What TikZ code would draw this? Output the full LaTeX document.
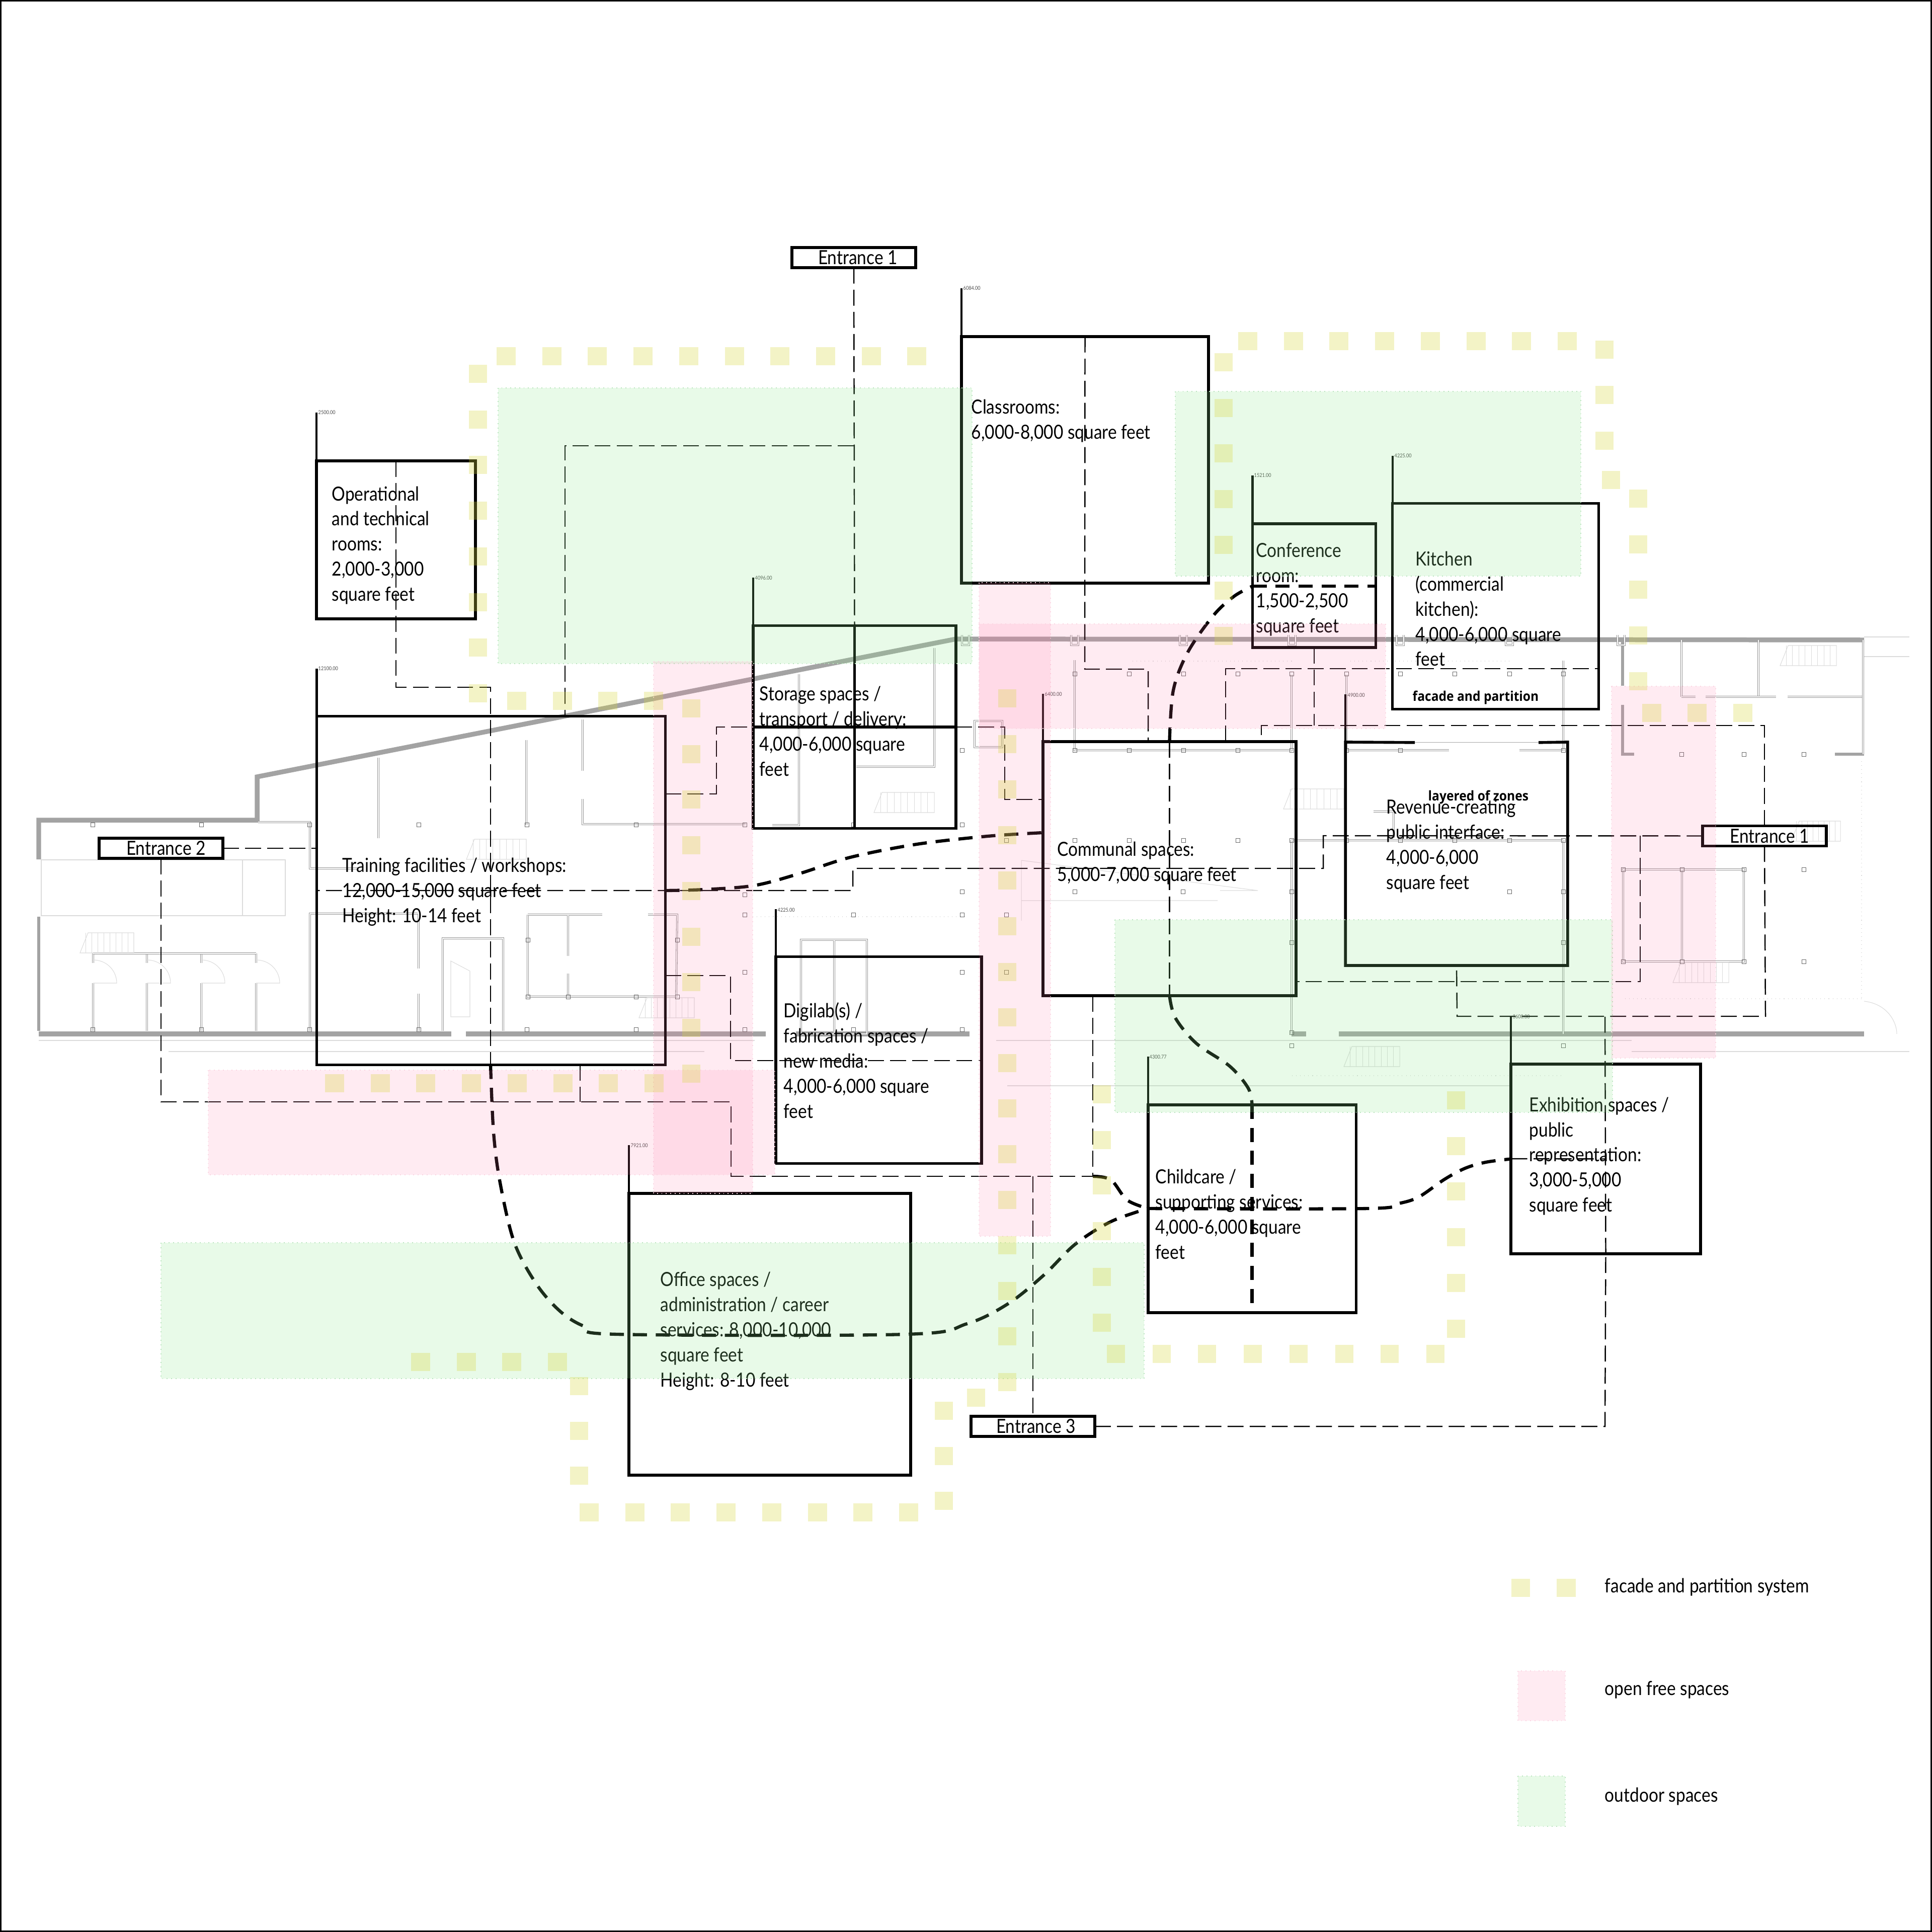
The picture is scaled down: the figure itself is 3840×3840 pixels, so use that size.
\documentclass[tikz,border=0pt]{standalone}
\usepackage{fontspec}
\setmainfont{Lato}[FakeStretch=0.865]
\newfontfamily\notefont{Open Sans}[FakeStretch=0.92]
\usepackage{tikz}
\usetikzlibrary{positioning}

\definecolor{outdoor}{RGB}{140,230,140}
\definecolor{outdoorline}{RGB}{185,228,190}
\definecolor{freezone}{RGB}{255,122,168}
\definecolor{freeline}{RGB}{250,214,226}
\definecolor{facade}{RGB}{215,215,65}

\tikzset{
    room/.style={draw,line width=1.6pt,inner sep=0pt,outer sep=0pt},
    roomline/.style={line width=1.6pt},
    tabline/.style={line width=1.2pt},
    tablabel/.style={font=\fontsize{3}{3}\selectfont,text=black!70,anchor=west,inner sep=0pt},
    roomtext/.style={font=\fontsize{11}{14.2}\selectfont,align=left,anchor=west,inner sep=0pt},
    notetext/.style={font=\notefont\bfseries\fontsize{7.6}{9}\selectfont,anchor=west,inner sep=0pt},
    entrance/.style={draw,line width=1.6pt,inner sep=0pt,outer sep=0pt,
        minimum width=2.46cm,minimum height=0.4cm,font=\fontsize{11}{14.2}\selectfont},
    route/.style={line width=0.7pt,dash pattern=on 9pt off 3.5pt},
    mainroute/.style={line width=1.8pt,dash pattern=on 8pt off 5pt},
    wall/.style={draw=black!36,line width=2.7pt},
    planline/.style={draw=black!42,line width=0.3pt,double=white,double distance=0.5pt},
    postmark/.style={draw=black!60,line width=0.25pt},
    ghostline/.style={draw=black!14,line width=0.3pt},
    greenzone/.style={fill=outdoor,fill opacity=0.2,draw=outdoorline,line width=0.5pt,dotted},
    pinkzone/.style={fill=freezone,fill opacity=0.15,draw=freeline,line width=0.5pt,dotted},
    facadesq/.style={fill=facade,fill opacity=0.3}
}

\begin{document}
\begin{tikzpicture}[x=0.01cm,y=-0.01cm]

\useasboundingbox (0,0) rectangle (3840,3840);
\draw[line width=1pt] (1,1) rectangle (3839,3839);

% Walls
\draw[wall,line join=miter] (77,1708)--(77,1630)--(511,1630)--(511,1544)--(1900,1270)--(3705,1272);
\draw[wall,line width=1.8pt] (77,1822)--(77,2049);
\draw[wall] (77,2055)--(897,2055) (926,2055)--(1522,2055) (1582,2055)--(1927,2055);
\draw[wall] (2567,2055)--(2596,2055) (2661,2055)--(3705,2055);
\draw[wall,line width=1.8pt] (3225,1272)--(3225,1363) (3225,1401)--(3225,1499)--(3248,1499);
\draw[wall,line width=1.8pt] (3647,1499)--(3705,1499);

% Plan lines
\draw[planline] (513,1634)--(616,1634)--(616,1726)--(714,1726);
\draw[planline] (830,1816)--(616,1816)--(616,2049);
\draw[planline] (752,1506)--(752,1666) (1046,1471)--(1046,1640);
\draw[planline] (1158,1430)--(1158,1532) (1158,1588)--(1158,1638)--(1482,1638);
\draw[planline] (832,1816)--(832,1925) (832,1975)--(832,2049);
\foreach \x in {185,292,400,509}{
    \draw[planline] (\x,1895)--(\x,1914) (\x,1954)--(\x,2049);
    \draw[ghostline] (\x,1908) .. controls (\x+28,1908) and (\x+47,1930) .. (\x+47,1954)--(\x,1954);
}
\draw[planline] (185,1895)--(509,1895);
\draw[planline] (880,2049)--(880,1865)--(1000,1865)--(1000,2049);
\draw[planline] (1049,1818)--(1049,1981)--(1344,1981)--(1346,1818)--(1288,1818);
\draw[planline] (1049,1818)--(1197,1818) (1129,1818)--(1129,1900) (1129,1935)--(1129,1981);
\draw[ghostline] (896,1910)--(934,1930)--(934,2021)--(896,2021)--cycle;
\draw[planline] (1857,1288)--(1857,1524)--(1702,1524);
\draw[planline] (1588,1340)--(1588,1640)--(1535,1640);
\draw[planline] (1937,1433) rectangle (1992,1485);
\draw[planline] (1592,1868) rectangle (1723,2055) (1658,1868)--(1658,2055);
\draw[planline] (2136,1312)--(2136,1491)--(2567,1491)--(2567,1341);
\draw[planline] (2676,1341)--(2676,1491)--(2880,1491) (3020,1491)--(3107,1491);
\draw[planline] (3107,1313)--(3107,1493) (3107,1670)--(3107,2055);
\draw[planline] (2567,1670)--(2567,2055) (2567,1670)--(3107,1670);
\draw[planline] (3342,1272)--(3342,1385) (3495,1272)--(3495,1385);
\draw[planline] (3342,1385)--(3370,1385) (3390,1385)--(3530,1385) (3553,1385)--(3703,1385)--(3703,1272);
\draw[planline] (3703,1272)--(3703,1499);
\draw[planline] (3226,1728) rectangle (3466,1911) (3343,1728)--(3343,1911);
\draw[planline] (2730,1613)--(2770,1613)--(2770,1665);

% Ghost lines
\draw[ghostline] (82,1709) rectangle (567,1820) (482,1709)--(482,1820);
\draw[ghostline] (335,2090)--(1400,2090) (77,2068)--(1500,2068);
\draw[ghostline] (1980,2068)--(3243,2068) (2002,2158)--(3000,2158);
\draw[ghostline] (3243,2090)--(3795,2090) (3705,1266)--(3795,1266) (3705,1305)--(3795,1305);
\draw[ghostline] (2030,1710)--(2500,1770)--(2425,1770) (2030,1710)--(2030,1830) (2030,1790)--(2420,1790);
\draw[ghostline] (3705,1990) .. controls (3750,1995) and (3770,2030) .. (3770,2055);
\draw[ghostline,dotted,line width=0.7pt] (1496,1822)--(1918,1822) (2251,1314)--(2568,1314) (2684,1314)--(3000,1314);
\draw[ghostline,dotted,line width=0.7pt] (3230,1985)--(3700,1985) (2568,2138)--(3107,2138) (3700,1513)--(3700,1985);
\foreach \x/\y/\w in {159/1854/107,927/1668/119,1270/1983/110,1737/1575/120,3538/1283/112,2551/1568/120,2671/2080/111,3560/1632/98,3325/1913/111}{
    \draw[ghostline] (\x,\y+40)--(\x+16,\y)--(\x+\w,\y)--(\x+\w,\y+40)--cycle;
    \foreach \s in {1,...,8}{ \draw[ghostline] (\x+\s*\w/9,\y)--(\x+\s*\w/9,\y+40); }
}

% Posts
\foreach \x in {184,400,615,832,1047,1264,1480,1696,1912}{
    \draw[postmark] (\x-4,1635) rectangle (\x+4,1643);
    \draw[postmark] (\x-4,2042) rectangle (\x+4,2050);
}
\foreach \x/\y in {1480/1818,1696/1818,1912/1818,2000/1818,1480/1932,1912/1932,2000/1932,1912/1491,1049/1868,1049/1981,1346/1868,1346/1981,1129/1981,1264/1981,1480/1778,1912/1772,2000/1670}{
    \draw[postmark] (\x-4,\y-4) rectangle (\x+4,\y+4);
}
\foreach \x in {2136,2244,2352,2460,2567,2676,2783,2891,3000,3107}{
    \draw[postmark] (\x-4,1335) rectangle (\x+4,1343);
    \draw[postmark] (\x-4,1666) rectangle (\x+4,1674);
}
\foreach \x in {2136,2244,2352,2460,2567,2676,2783,3107}{
    \draw[postmark] (\x-4,1487) rectangle (\x+4,1495);
}
\foreach \x/\y in {2136/1772,2351/1772,2567/1772,3000/1772,3107/1772,2567/1873,3107/1873,2567/2052,3107/2078,2567/2078,3226/1728,3343/1728,3466/1728,3226/1911,3343/1911,3466/1911,3585/1728,3585/1911,3342/1499,3466/1499,3585/1499}{
    \draw[postmark] (\x-4,\y-4) rectangle (\x+4,\y+4);
}
\foreach \x in {1919,2136,2352,2568,2783,3000,3222}{
    \draw[planline] (\x-7,1262)--(\x-7,1282)--(\x+7,1282)--(\x+7,1262);
}

% Rooms
\node[room,minimum width=3.155cm,minimum height=3.135cm] (operational) at (787,1073) {};
\node[room,minimum width=6.925cm,minimum height=6.925cm] (training) at (976,1770) {};
\node[room,minimum width=4.91cm,minimum height=4.9cm] (classrooms) at (2156.5,914) {};
\node[room,minimum width=4.03cm,minimum height=4.025cm] (storage) at (1698.5,1445) {};
\node[room,minimum width=5.03cm,minimum height=5.05cm] (communal) at (2324.5,1726.5) {};
\node[room,minimum width=4.09cm,minimum height=4.106cm] (digilab) at (1746.5,2107) {};
\node[room,minimum width=2.45cm,minimum height=2.456cm] (conference) at (2612,1164) {};
\node[room,minimum width=4.095cm,minimum height=4.086cm] (kitchen) at (2972.5,1205) {};
\node[inner sep=0pt,minimum width=4.4cm,minimum height=4.424cm] (revenue) at (2895,1697) {};
\node[room,minimum width=4.134cm,minimum height=4.13cm] (childcare) at (2488.5,2402.5) {};
\node[room,minimum width=3.77cm,minimum height=3.77cm] (exhibition) at (3191.5,2303.5) {};
\node[room,minimum width=5.6cm,minimum height=5.6cm] (office) at (1530,2652) {};

\draw[roomline] (2812,1475.8)--(revenue.north west)--(revenue.south west)--(revenue.south east)--(revenue.north east)--(3058,1475.8);
\draw[ghostline,draw=black!35] (2812,1475.8)--(3058,1475.8);

% Tabs
\draw[tabline] (operational.north west)--++(0,-96);
\draw[tabline] (training.north west)--++(0,-95);
\draw[tabline] (classrooms.north west)--++(0,-96);
\draw[tabline] (storage.north west)--++(0,-96);
\draw[tabline] (communal.north west)--++(0,-95);
\draw[tabline] (digilab.north west)--++(0,-95);
\draw[tabline] (conference.north west)--++(0,-96);
\draw[tabline] (kitchen.north west)--++(0,-95);
\draw[tabline] (revenue.north west)--++(0,-95);
\draw[tabline] (childcare.north west)--++(0,-96);
\draw[tabline] (exhibition.north west)--++(0,-95);
\draw[tabline] (office.north west)--++(0,-96);

\node[tablabel] (operationaltab) at (632,820) {2500.00};
\node[tablabel] (trainingtab) at (632,1329) {12100.00};
\node[tablabel] (classroomstab) at (1914,573) {6084.00};
\node[tablabel] (storagetab) at (1500,1149) {4096.00};
\node[tablabel] (communaltab) at (2076,1380) {6400.00};
\node[tablabel] (digilabtab) at (1545,1809) {4225.00};
\node[tablabel] (conferencetab) at (2492,945) {1521.00};
\node[tablabel] (kitchentab) at (2771,906) {4225.00};
\node[tablabel] (revenuetab) at (2678,1382) {4900.00};
\node[tablabel] (childcaretab) at (2284,2101) {4300.77};
\node[tablabel] (exhibitiontab) at (3006,2021) {3600.00};
\node[tablabel] (officetab) at (1253,2277) {7921.00};

% Room texts
\node[roomtext] (operationaltxt) at (659,1084) {Operational\\and technical\\rooms:\\2,000-3,000\\square feet};
\node[roomtext] (trainingtxt) at (680,1773) {Training facilities / workshops:\\12,000-15,000 square feet\\Height: 10-14 feet};
\node[roomtext] (classroomstxt) at (1930,837) {Classrooms:\\6,000-8,000 square feet};
\node[roomtext] (storagetxt) at (1509,1453) {Storage spaces /\\transport / delivery:\\4,000-6,000 square\\feet};
\node[roomtext] (communaltxt) at (2101,1716) {Communal spaces:\\5,000-7,000 square feet};
\node[roomtext] (digilabtxt) at (1557,2108) {Digilab(s) /\\fabrication spaces /\\new media:\\4,000-6,000 square\\feet};
\node[roomtext] (conferencetxt) at (2496,1172) {Conference\\room:\\1,500-2,500\\square feet};
\node[roomtext] (kitchentxt) at (2813,1210) {Kitchen\\(commercial\\kitchen):\\4,000-6,000 square\\feet};
\node[roomtext] (revenuetxt) at (2755,1682) {Revenue-creating\\public interface:\\4,000-6,000\\square feet};
\node[roomtext] (childcaretxt) at (2296,2413) {Childcare /\\supporting services:\\4,000-6,000 square\\feet};
\node[roomtext] (exhibitiontxt) at (3039,2298) {Exhibition spaces /\\public\\representation:\\3,000-5,000\\square feet};
\node[roomtext] (officetxt) at (1312,2646) {Office spaces /\\administration / career\\services: 8,000-10,000\\square feet\\Height: 8-10 feet};
\node[notetext] (facadenote) at (2807,1386) {facade and partition};
\node[notetext] (zonesnote) at (2838,1584) {layered of zones};

% Entrances
\node[entrance] (entrancetop) at (1697,512) {\hspace*{0.16cm}Entrance 1};
\node[entrance] (entranceleft) at (320,1686) {\hspace*{0.2cm}Entrance 2};
\node[entrance] (entranceright) at (3507,1661.5) {\hspace*{0.2cm}Entrance 1};
\node[entrance] (entrancelow) at (2053,2835) {\hspace*{0.12cm}Entrance 3};

% Routes
\draw[route] (entranceleft.east)--(training.west |- entranceleft.east);
\draw[route] (entranceleft.south)--(320,2190)--(1453,2190)--(1453,2338)--(2172,2338);
\draw[route] (1153,0 |- training.south)--(1153,2190);
\draw[route] (2053,2338)--(entrancelow.north);
\draw[route] (entrancelow.east)--(3190,2835)--(exhibition.south);
\draw[route] (exhibition.south)--(3190,2020);
\draw[route] (entranceright.south)--(3509,2020)--(2896,2020)--(revenue.south);
\draw[route] (entranceright.north)--(3507,1442)--(2507,1442)--(2507,0 |- communal.north);
\draw[route] (conference.south)--(2612,1442);
\draw[route] (entranceright.west)--(2630,1661)--(2630,1726)--(1695,1726)--(1695,1770)--(training.west |- 0,1770);
\draw[route] (3260,1661)--(3260,1951)--(communal.east |- 0,1951);
\draw[route] (operational.north)--(787,1366)--(975,1366)--(975,0 |- training.south);
\draw[route] (entrancetop.south)--(storage.north);
\draw[route] (1697,886)--(1123,886)--(1123,0 |- training.north);
\draw[route] (training.east |- 0,1578)--(1424,1578)--(1424,1445)--(storage.west);
\draw[route] (storage.east)--(1997,1445)--(1997,1589)--(communal.west |- 0,1589);
\draw[route] (training.east |- 0,1939)--(1452,1939)--(1452,2108)--(digilab.east |- 0,2108);
\draw[route] (2172,0 |- communal.south)--(2172,2338);
\draw[route] (classrooms.north)--(2156,1330)--(2282,1330)--(2282,0 |- communal.north);
\draw[route] (2436,0 |- communal.north)--(2436,1329)--(kitchen.east |- 0,1329);
\draw[route] (communal.north)--(communal.south);
\draw[route] (3004,2303)--(exhibition.center);

% Storage cross
\draw[line width=1.5pt] (storage.north)--(storage.south);
\draw[line width=1.5pt] (storage.west)--(storage.east);

% Main routes
\coordinate (trainingexit) at (training.east |- 0,1770);
\coordinate (communalin) at (communal.west |- 0,1655);
\coordinate (trainingdown) at (975,0 |- training.south);
\coordinate (childcarein) at (childcare.west |- 0,2402);
\draw[mainroute] plot[smooth,tension=0.55] coordinates {(trainingexit) (1399,1768) (1499,1760) (1590,1736) (1690,1704) (1822,1678) (1963,1662) (communalin)};
\draw[mainroute] plot[smooth,tension=0.55] coordinates {(trainingdown) (981,2251) (994,2351) (1022,2469) (1066,2552) (1113,2606) (1161,2636) (1228,2652) (1800,2652) (1922,2631) (2004,2591) (2075,2534) (2137,2473) (2208,2428) (childcarein)};
\draw[mainroute] plot[smooth,tension=0.55] coordinates {(2172,2338) (2208,2345) (2240,2385) (childcarein)};
\draw[mainroute] plot[smooth,tension=0.55] coordinates {(childcarein) (2718,2402) (2780,2392) (2820,2379) (2871,2344) (2912,2322) (2953,2310) (exhibition.west)};
\draw[mainroute] plot[smooth,tension=0.55] coordinates {(communal.north) (2332,1372) (2361,1296) (2412,1223) (2453,1185) (conference.west |- 0,1165)};
\draw[mainroute] (conference.west |- 0,1165)--(conference.east |- 0,1165);
\draw[mainroute] plot[smooth,tension=0.55] coordinates {(communal.south) (2336,2023) (2378,2074) (2444,2119) (2481,2163) (childcare.north)};
\draw[mainroute] (childcare.north)--(childcare.south);

% Green zones
\path[greenzone] (990,771) rectangle (1932,1319);
\path[greenzone] (2336,778) rectangle (3142,1145);
\path[greenzone] (2216,1828) rectangle (3205,2211);
\path[greenzone] (320,2470) rectangle (2274,2740);

% Pink zones
\path[pinkzone] (1299,1315) rectangle (1496,2372);
\path[pinkzone] (414,2127) rectangle (1540,2335);
\path[pinkzone] (1946,1158) rectangle (2088,2457);
\path[pinkzone] (1946,1240) rectangle (2754,1448);
\path[pinkzone] (3203,1364) rectangle (3410,2103);

% Facade squares
\foreach \i in {0,...,9}{ \fill[facadesq,shift={(1006+90.7*\i,708)}] (-19,-18) rectangle (19,18); }
\foreach \i in {0,...,7}{ \fill[facadesq,shift={(950,743+90.7*\i)}] (-18,-18) rectangle (18,18); }
\foreach \x in {1027,1118,1208,1299}{ \fill[facadesq,shift={(\x,1393)}] (-19,-18) rectangle (19,18); }
\foreach \i in {0,...,8}{ \fill[facadesq,shift={(1374,1408+90.7*\i)}] (-18,-18) rectangle (18,18); }
\foreach \i in {0,...,7}{ \fill[facadesq,shift={(665+90.7*\i,2153)}] (-19,-18) rectangle (19,18); }
\foreach \i in {0,...,3}{ \fill[facadesq,shift={(836+90.7*\i,2707)}] (-19,-18) rectangle (19,18); }
\foreach \y in {2755,2844,2933}{ \fill[facadesq,shift={(1151,\y)}] (-18,-18) rectangle (18,18); }
\foreach \i in {0,...,7}{ \fill[facadesq,shift={(1171+90.7*\i,3006)}] (-19,-18) rectangle (19,18); }
\foreach \x/\y in {1876/2983,1876/2894,1876/2804,1940/2778}{ \fill[facadesq,shift={(\x,\y)}] (-18,-18) rectangle (18,18); }
\foreach \i in {0,...,15}{ \fill[facadesq,shift={(2002,1388+90.6*\i)}] (-18,-18) rectangle (18,18); }
\foreach \i in {0,...,5}{ \fill[facadesq,shift={(2190,2175+90.7*\i)}] (-18,-18) rectangle (18,18); }
\foreach \i in {0,...,7}{ \fill[facadesq,shift={(2218+90.7*\i,2691)}] (-18,-18) rectangle (18,18); }
\foreach \i in {0,...,5}{ \fill[facadesq,shift={(2894,2187+90.7*\i)}] (-18,-18) rectangle (18,18); }
\foreach \i in {0,...,7}{ \fill[facadesq,shift={(2480+90.7*\i,678)}] (-19,-18) rectangle (19,18); }
\foreach \i in {0,...,6}{ \fill[facadesq,shift={(2432,720+90.7*\i)}] (-18,-18) rectangle (18,18); }
\foreach \y in {695,785,876}{ \fill[facadesq,shift={(3189,\y)}] (-18,-18) rectangle (18,18); }
\fill[facadesq,shift={(3202,954)}] (-18,-18) rectangle (18,18);
\foreach \i in {0,...,4}{ \fill[facadesq,shift={(3256,991+90.7*\i)}] (-18,-18) rectangle (18,18); }
\foreach \x in {3283,3373,3464}{ \fill[facadesq,shift={(\x,1417)}] (-19,-18) rectangle (19,18); }

% Legend
\fill[facadesq] (3004,3138) rectangle (3041,3174);
\fill[facadesq] (3094,3138) rectangle (3132,3174);
\path[pinkzone] (3017,3321) rectangle (3111,3420);
\path[greenzone] (3017,3530) rectangle (3111,3630);
\node[roomtext] (legendfacade) at (3189,3155) {facade and partition system};
\node[roomtext] (legendfree) at (3189,3359) {open free spaces};
\node[roomtext] (legendoutdoor) at (3189,3571) {outdoor spaces};

\end{tikzpicture}
\end{document}
